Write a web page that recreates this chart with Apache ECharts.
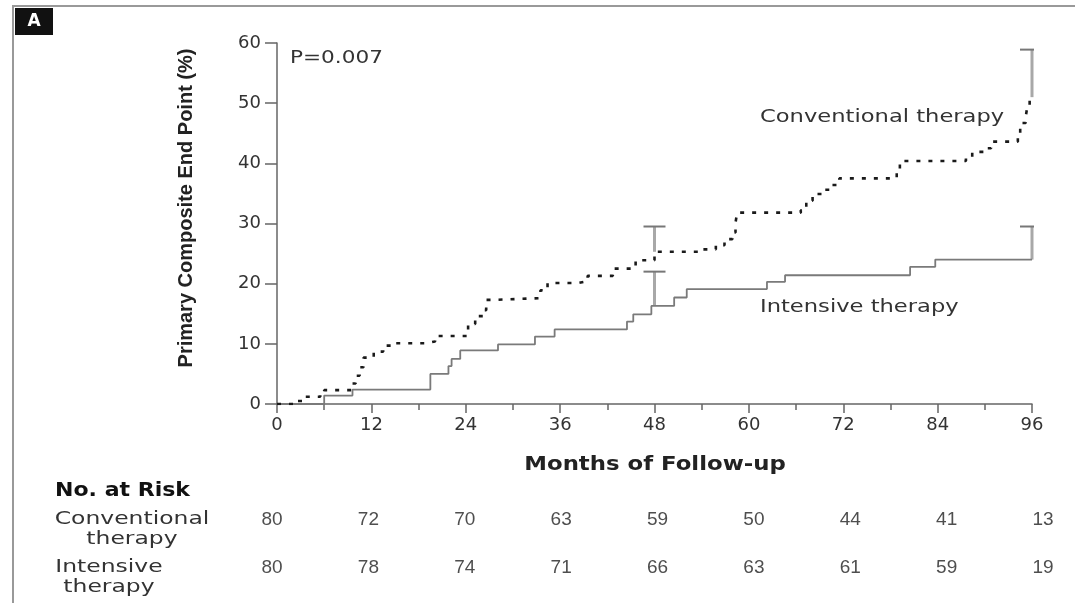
<!DOCTYPE html>
<html>
<head>
<meta charset="utf-8">
<script src="https://cdn.jsdelivr.net/npm/echarts@6/dist/echarts.min.js"></script>
<style>
  html, body { margin: 0; padding: 0; background: #fff; }
  #chart { width: 1075px; height: 603px; }
</style>
</head>
<body>
<div id="chart"></div>
<script>
// Cumulative incidence of the primary composite end point (%), Kaplan-Meier style steps
const convMonths = [0, 2.5, 3.2, 5.5, 6, 9.6, 10, 10.5, 11, 12.3, 13.5, 15, 19, 20.1, 24.3, 25.2, 26.2, 26.6, 27.5, 33.5, 34.4, 38.3, 39.5, 42.7, 45.6, 48, 54.2, 55.8, 56.9, 57.9, 58.3, 58.5, 66.6, 67.3, 68.1, 69.4, 70.6, 71.5, 78.8, 79.2, 87.6, 88.4, 90.1, 90.8, 94.2, 94.5, 95.2, 95.4, 95.7, 96];
const convValues = [0, 0.5, 1.2, 1.6, 2.3, 3.4, 4.7, 6.1, 7.7, 8.7, 9.7, 10.1, 10.4, 11.3, 13.3, 14.6, 15.6, 17.3, 17.6, 18.9, 20.1, 20.4, 21.3, 22.5, 23.9, 25.3, 25.7, 26.4, 27.4, 28.5, 30.1, 31.8, 32.2, 33.8, 34.9, 35.6, 36.4, 37.5, 38.9, 40.4, 40.9, 41.9, 42.5, 43.6, 44.7, 46.7, 47.7, 49.4, 51.0, 51.0];

const intMonths = [0, 6, 9.6, 19.5, 21.8, 22.2, 23.3, 28.1, 32.8, 35.3, 44.5, 45.3, 47.6, 50.5, 52.1, 62.3, 64.6, 80.5, 83.7, 96];
const intValues = [0, 1.4, 2.4, 5.0, 6.3, 7.5, 8.9, 9.9, 11.2, 12.4, 13.7, 14.9, 16.3, 17.7, 19.1, 20.3, 21.4, 22.8, 24.0, 24.0];

// Upper confidence bars at selected time points
const ciMonths = [48, 96];
const convCiLow = [25.3, 51.0];
const convCiHigh = [29.5, 58.9];
const intCiLow = [16.3, 24.0];
const intCiHigh = [22.0, 29.5];

// Number at risk
const riskMonths = [0, 12, 24, 36, 48, 60, 72, 84, 96];
const convAtRisk = [80, 72, 70, 63, 59, 50, 44, 41, 13];
const intAtRisk = [80, 78, 74, 71, 66, 63, 61, 59, 19];
const riskRows = ['Conventional', 'Intensive'];

const xTicks = { min: 0, max: 96, interval: 12 };
const yTicks = { min: 0, max: 60, interval: 10 };

const pair = (xs, ys) => xs.map((x, i) => [x, ys[i]]);

const ciData = [];
ciMonths.forEach((m, i) => {
  ciData.push([m, convCiLow[i], convCiHigh[i]]);
  ciData.push([m, intCiLow[i], intCiHigh[i]]);
});

const riskData = [];
riskMonths.forEach((m, i) => {
  riskData.push([m, riskRows[0], convAtRisk[i]]);
  riskData.push([m, riskRows[1], intAtRisk[i]]);
});

const TXT = '#333';
const AXIS = '#666';

const chart = echarts.init(document.getElementById('chart'), null, { renderer: 'canvas' });

chart.setOption({
  animation: false,
  backgroundColor: '#fff',
  grid: [
    { left: 277, right: 43, top: 43, bottom: 199 },
    { left: 272, right: 32, top: 496, height: 96 }
  ],
  xAxis: [
    {
      type: 'value', gridIndex: 0,
      min: xTicks.min, max: xTicks.max, interval: xTicks.interval,
      axisLine: { show: true, onZero: false, lineStyle: { color: AXIS, width: 1.5 } },
      axisTick: { show: true, length: 9, lineStyle: { color: AXIS, width: 1.5 } },
      minorTick: { show: true, splitNumber: 2, length: 6, lineStyle: { color: AXIS, width: 1.5 } },
      axisLabel: { margin: 12, color: TXT, fontFamily: 'DejaVu Sans', fontSize: 18 },
      splitLine: { show: false }
    },
    {
      type: 'value', gridIndex: 1, min: 0, max: 96, show: false
    }
  ],
  yAxis: [
    {
      type: 'value', gridIndex: 0,
      min: yTicks.min, max: yTicks.max, interval: yTicks.interval,
      axisLine: { show: true, lineStyle: { color: AXIS, width: 1.5 } },
      axisTick: { show: true, length: 12, lineStyle: { color: AXIS, width: 1.5 } },
      axisLabel: { margin: 16, color: TXT, fontFamily: 'DejaVu Sans', fontSize: 18 },
      splitLine: { show: false }
    },
    {
      type: 'category', gridIndex: 1, data: riskRows, inverse: true, show: false
    }
  ],
  series: [
    {
      name: 'Intensive therapy',
      type: 'line', step: 'end', xAxisIndex: 0, yAxisIndex: 0,
      data: pair(intMonths, intValues),
      symbol: 'none',
      lineStyle: { color: '#7a7a7a', width: 1.8 },
      z: 3
    },
    {
      name: 'Conventional therapy',
      type: 'line', step: 'end', xAxisIndex: 0, yAxisIndex: 0,
      data: pair(convMonths, convValues),
      symbol: 'none',
      lineStyle: { color: '#1a1a1a', width: 2.6, type: [4, 8] },
      z: 4
    },
    {
      name: 'ci',
      type: 'custom', xAxisIndex: 0, yAxisIndex: 0,
      data: ciData,
      renderItem: function (params, api) {
        const lo = api.coord([api.value(0), api.value(1)]);
        const hi = api.coord([api.value(0), api.value(2)]);
        const atEnd = api.value(0) >= xTicks.max;
        const capL = atEnd ? -12 : -11;
        const capR = atEnd ? 2 : 11;
        return {
          type: 'group',
          children: [
            { type: 'line', shape: { x1: hi[0], y1: lo[1], x2: hi[0], y2: hi[1] },
              style: { stroke: '#a8a8a8', lineWidth: 3 } },
            { type: 'line', shape: { x1: hi[0] + capL, y1: hi[1], x2: hi[0] + capR, y2: hi[1] },
              style: { stroke: '#777', lineWidth: 2 } }
          ]
        };
      },
      z: 2
    },
    {
      name: 'risk',
      type: 'scatter', xAxisIndex: 1, yAxisIndex: 1,
      data: riskData,
      symbolSize: 0.1,
      itemStyle: { color: 'rgba(0,0,0,0)' },
      label: {
        show: true, position: 'inside',
        formatter: p => String(p.value[2]),
        color: '#222', fontFamily: 'Liberation Sans', fontSize: 19
      }
    }
  ],
  graphic: [
    // figure frame and panel letter
    { type: 'line', shape: { x1: 12, y1: 6, x2: 1075, y2: 6 }, style: { stroke: '#999', lineWidth: 2 } },
    { type: 'line', shape: { x1: 13, y1: 6, x2: 13, y2: 603 }, style: { stroke: '#999', lineWidth: 2 } },
    { type: 'rect', shape: { x: 15, y: 8, width: 38, height: 27 }, style: { fill: '#111' } },
    { type: 'text', x: 34, y: 22, style: { text: 'A', fill: '#fff', font: 'bold 17px "DejaVu Sans"', textAlign: 'center', textVerticalAlign: 'middle' } },
    // axis titles
    { type: 'text', x: 186, y: 208, rotation: Math.PI / 2,
      style: { text: 'Primary Composite End Point (%)', fill: '#222', font: 'bold 20px "Liberation Sans"', textAlign: 'center', textVerticalAlign: 'middle' } },
    { type: 'text', x: 655, y: 465, scaleX: 1.2,
      style: { text: 'Months of Follow-up', fill: '#222', font: 'bold 19px "DejaVu Sans"', textAlign: 'center', textVerticalAlign: 'middle' } },
    // annotations
    { type: 'text', x: 290, y: 58, scaleX: 1.2,
      style: { text: 'P=0.007', fill: TXT, font: '18px "DejaVu Sans"', textAlign: 'left', textVerticalAlign: 'middle' } },
    { type: 'text', x: 760, y: 118, scaleX: 1.33,
      style: { text: 'Conventional therapy', fill: TXT, font: '17px "DejaVu Sans"', textAlign: 'left', textVerticalAlign: 'middle' } },
    { type: 'text', x: 760, y: 308, scaleX: 1.33,
      style: { text: 'Intensive therapy', fill: TXT, font: '17px "DejaVu Sans"', textAlign: 'left', textVerticalAlign: 'middle' } },
    // at-risk table labels
    { type: 'text', x: 55, y: 491, scaleX: 1.16,
      style: { text: 'No. at Risk', fill: '#111', font: 'bold 19px "DejaVu Sans"', textAlign: 'left', textVerticalAlign: 'middle' } },
    { type: 'text', x: 132, y: 530, scaleX: 1.38,
      style: { text: 'Conventional\ntherapy', fill: TXT, font: '17px "DejaVu Sans"', lineHeight: 20, textAlign: 'center', textVerticalAlign: 'middle' } },
    { type: 'text', x: 109, y: 578, scaleX: 1.38,
      style: { text: 'Intensive\ntherapy', fill: TXT, font: '17px "DejaVu Sans"', lineHeight: 20, textAlign: 'center', textVerticalAlign: 'middle' } }
  ]
});
</script>
</body>
</html>
